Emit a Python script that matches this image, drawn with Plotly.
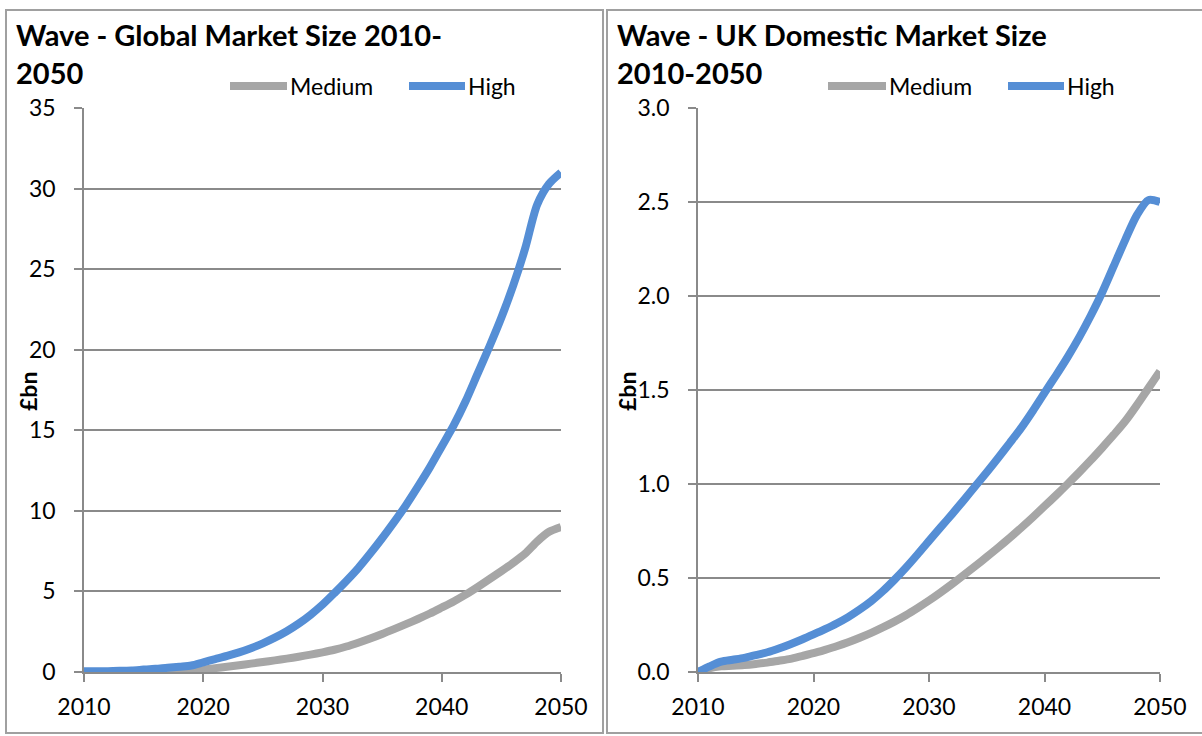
import plotly.graph_objects as go

W, H = 1202, 736

years = list(range(2010, 2051))

# Global market size, £bn
global_medium = [0.0, 0.0, 0.0, 0.0, 0.0, 0.0, 0.0, 0.0, 0.0, 0.05,
                 0.15, 0.24, 0.33, 0.42, 0.52, 0.62, 0.72, 0.83, 0.95, 1.08,
                 1.22, 1.38, 1.58, 1.82, 2.08, 2.36, 2.66, 2.97, 3.29, 3.63,
                 4.0, 4.38, 4.8, 5.27, 5.76, 6.26, 6.78, 7.35, 8.1, 8.7, 9.0]
global_high = [0.05, 0.05, 0.05, 0.07, 0.1, 0.15, 0.2, 0.27, 0.33, 0.4,
               0.6, 0.8, 1.0, 1.22, 1.48, 1.78, 2.13, 2.53, 3.0, 3.55,
               4.18, 4.9, 5.65, 6.45, 7.35, 8.3, 9.3, 10.35, 11.5, 12.7,
               14.0, 15.3, 16.8, 18.5, 20.2, 22.0, 24.0, 26.3, 29.0, 30.3, 31.0]

# UK domestic market size, £bn
uk_medium = [0.0, 0.02, 0.03, 0.033, 0.037, 0.043, 0.05, 0.06, 0.07, 0.085,
             0.1, 0.118, 0.137, 0.158, 0.182, 0.208, 0.237, 0.268, 0.302, 0.34,
             0.38, 0.423, 0.468, 0.515, 0.563, 0.612, 0.662, 0.714, 0.768, 0.824,
             0.882, 0.94, 1.0, 1.062, 1.126, 1.193, 1.262, 1.335, 1.42, 1.51, 1.6]
uk_high = [0.0, 0.03, 0.055, 0.065, 0.075, 0.09, 0.105, 0.125, 0.148, 0.173,
           0.2, 0.228, 0.258, 0.292, 0.332, 0.377, 0.43, 0.49, 0.555, 0.625,
           0.698, 0.769, 0.84, 0.913, 0.988, 1.063, 1.14, 1.219, 1.3, 1.39,
           1.485, 1.578, 1.675, 1.78, 1.895, 2.02, 2.16, 2.3, 2.43, 2.51, 2.5]

series_names = ["Medium", "High"]
titles = ["Wave - Global Market Size 2010-<br>2050",
          "Wave - UK Domestic Market Size<br>2010-2050"]
y_title = "£bn"
x_ticks = [2010, 2020, 2030, 2040, 2050]
global_y_ticks = [0, 5, 10, 15, 20, 25, 30, 35]
uk_y_ticks = [0.0, 0.5, 1.0, 1.5, 2.0, 2.5, 3.0]

GRAY = "#A6A6A6"
BLUE = "#558ED5"
AXIS = "#8A8A8A"
FRAME = "#A0A0A0"
FONT = "Lato"


def px(x):
    return x / W


def py(y):
    return 1 - y / H


fig = go.Figure()

panels = [
    dict(xa="x", ya="y", med=global_medium, high=global_high),
    dict(xa="x2", ya="y2", med=uk_medium, high=uk_high),
]
for p in panels:
    fig.add_trace(go.Scatter(x=years, y=p["med"], xaxis=p["xa"], yaxis=p["ya"],
                             mode="lines", name=series_names[0],
                             line=dict(color=GRAY, width=8, shape="spline", smoothing=0.8),
                             showlegend=False))
    fig.add_trace(go.Scatter(x=years, y=p["high"], xaxis=p["xa"], yaxis=p["ya"],
                             mode="lines", name=series_names[1],
                             line=dict(color=BLUE, width=8, shape="spline", smoothing=0.8),
                             showlegend=False))

xcommon = dict(range=[2010, 2050], tickvals=x_ticks, showgrid=False, zeroline=False,
               showline=True, linecolor=AXIS, linewidth=1.5, automargin=False,
               ticks="outside", ticklen=8, tickwidth=1.5, tickcolor=AXIS,
               ticklabelstandoff=6,
               tickfont=dict(family=FONT, size=23, color="black"), fixedrange=True)
ycommon = dict(showgrid=True, gridcolor=AXIS, gridwidth=1.5, zeroline=False,
               showline=True, linecolor=AXIS, linewidth=1.5, automargin=False,
               ticks="outside", ticklen=8, tickwidth=1.5, tickcolor=AXIS,
               ticklabelstandoff=14,
               tickfont=dict(family=FONT, size=23, color="black"), fixedrange=True)

fig.update_layout(
    width=W, height=H,
    margin=dict(l=0, r=0, t=0, b=0, autoexpand=False),
    paper_bgcolor="white", plot_bgcolor="white",
    xaxis=dict(domain=[px(84), px(561)], anchor="y", **xcommon),
    yaxis=dict(domain=[py(672), py(108)], anchor="x", range=[0, 35],
               tickvals=global_y_ticks, ticktext=[str(v) for v in global_y_ticks], **ycommon),
    xaxis2=dict(domain=[px(698), px(1160)], anchor="y2", **xcommon),
    yaxis2=dict(domain=[py(672), py(108)], anchor="x2", range=[0, 3],
                tickvals=uk_y_ticks, ticktext=[f"{v:.1f}" for v in uk_y_ticks], **ycommon),
)

shapes = []
annotations = []

# panel frames
shapes.append(dict(type="rect", xref="paper", yref="paper",
                   x0=px(6), x1=px(603), y0=py(733), y1=py(10),
                   line=dict(color=FRAME, width=2)))
shapes.append(dict(type="rect", xref="paper", yref="paper",
                   x0=px(607), x1=px(1215), y0=py(733), y1=py(10),
                   line=dict(color=FRAME, width=2)))

panel_layout = [
    dict(title_x=14, ytitle_x=28, leg=(230, 287, 409, 465)),
    dict(title_x=615, ytitle_x=627, leg=(828, 886, 1008, 1064)),
]
for i, pl in enumerate(panel_layout):
    annotations.append(dict(text="<b>" + titles[i] + "</b>", xref="paper", yref="paper",
                            x=px(pl["title_x"]), y=py(15), xanchor="left", yanchor="top",
                            align="left", showarrow=False,
                            font=dict(family=FONT, size=29, color="black")))
    annotations.append(dict(text="<b>" + y_title + "</b>", xref="paper", yref="paper",
                            x=px(pl["ytitle_x"]), y=py(392), xanchor="center", yanchor="middle",
                            textangle=-90, showarrow=False,
                            font=dict(family=FONT, size=23, color="black")))
    g0, g1, b0, b1 = pl["leg"]
    for (x0, x1), color, name in [((g0, g1), GRAY, series_names[0]),
                                  ((b0, b1), BLUE, series_names[1])]:
        shapes.append(dict(type="line", xref="paper", yref="paper",
                           x0=px(x0), x1=px(x1), y0=py(86), y1=py(86),
                           line=dict(color=color, width=8)))
        annotations.append(dict(text=name, xref="paper", yref="paper",
                                x=px(x1 + 1), y=py(86), xanchor="left", yanchor="middle",
                                showarrow=False,
                                font=dict(family=FONT, size=23, color="black")))

fig.update_layout(shapes=shapes, annotations=annotations)

fig.write_html("out.html")
